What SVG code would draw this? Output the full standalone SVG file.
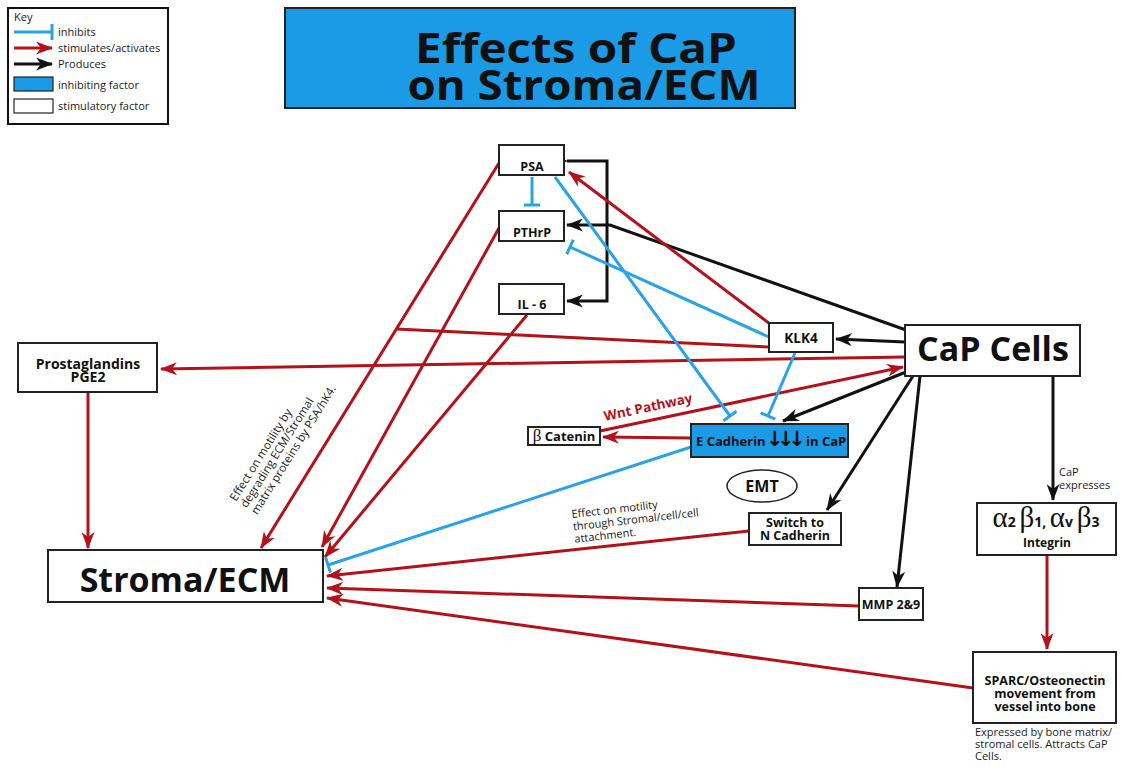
<svg xmlns="http://www.w3.org/2000/svg" width="1123" height="767" viewBox="0 0 1123 767">
<style>
.bx{fill:#fff;stroke:#222;stroke-width:2}
.bl{fill:#1b9be6;stroke:#222;stroke-width:2}
.t{font-family:"Open Sans","Liberation Sans",sans-serif;font-weight:700;fill:#111;text-anchor:middle}
.n{font-family:"Open Sans","Liberation Sans",sans-serif;font-weight:400;fill:#1a1a1a}
.r{fill:none;stroke:#b3121a;stroke-width:3}
.k{fill:none;stroke:#111;stroke-width:3}
.b{fill:none;stroke:#29a3e6;stroke-width:3}
.gr{font-family:"Liberation Serif","DejaVu Serif",serif;font-weight:400}
</style>
<defs>
<marker id="ar" markerUnits="userSpaceOnUse" markerWidth="17" markerHeight="13" viewBox="0 0 17 13" refX="16" refY="6.5" orient="auto"><path d="M0,0 L17,6.5 L0,13 L5,6.5 z" fill="#b3121a"/></marker>
<marker id="ab" markerUnits="userSpaceOnUse" markerWidth="17" markerHeight="13" viewBox="0 0 17 13" refX="16" refY="6.5" orient="auto"><path d="M0,0 L17,6.5 L0,13 L5,6.5 z" fill="#111"/></marker>
<marker id="tb" markerUnits="userSpaceOnUse" markerWidth="4" markerHeight="16" viewBox="0 0 4 16" refX="2" refY="8" orient="auto"><rect x="0.5" y="0" width="3" height="16" fill="#29a3e6"/></marker>
</defs>
<rect width="1123" height="767" fill="#fff"/>

<g id="key">
<rect x="8" y="8" width="160" height="116" fill="#fff" stroke="#111" stroke-width="2"/>
<text x="14" y="21" class="n" font-size="11" font-weight="700">Key</text>
<line x1="14" y1="32" x2="52" y2="32" class="b" stroke-width="2.5" marker-end="url(#tb)"/>
<line x1="14" y1="48" x2="52" y2="48" class="r" stroke-width="2.5" marker-end="url(#ar)"/>
<line x1="14" y1="64" x2="52" y2="64" class="k" stroke-width="2.5" marker-end="url(#ab)"/>
<rect x="14" y="77" width="39" height="14" fill="#1b9be6" stroke="#222" stroke-width="1.2"/>
<rect x="14" y="99" width="39" height="14" fill="#fff" stroke="#222" stroke-width="1.2"/>
<text x="58" y="36" class="n" font-size="11">inhibits</text>
<text x="58" y="52" class="n" font-size="11">stimulates/activates</text>
<text x="58" y="68" class="n" font-size="11">Produces</text>
<text x="58" y="89" class="n" font-size="11">inhibiting factor</text>
<text x="58" y="110" class="n" font-size="11">stimulatory factor</text>
</g>

<g id="title">
<rect x="285" y="8" width="510" height="100" fill="#1b9be6" stroke="#222" stroke-width="2"/>
<text x="576" y="63" class="t" font-size="41" textLength="322" lengthAdjust="spacingAndGlyphs">Effects of CaP</text>
<text x="584" y="100" class="t" font-size="41" textLength="353" lengthAdjust="spacingAndGlyphs">on Stroma/ECM</text>
</g>

<g id="connectors">
<!-- black produces -->
<polyline points="906,330 610,225 567,225" class="k" marker-end="url(#ab)"/>
<polyline points="567,161 607,161 607,301 567,301" class="k" marker-start="url(#ab)" marker-end="url(#ab)"/>
<line x1="905" y1="342" x2="836" y2="339" class="k" marker-end="url(#ab)"/>
<line x1="906" y1="372" x2="783" y2="421" class="k" marker-end="url(#ab)"/>
<line x1="913" y1="376" x2="827" y2="510" class="k" marker-end="url(#ab)"/>
<line x1="920" y1="376" x2="897" y2="587" class="k" marker-end="url(#ab)"/>
<line x1="1053" y1="377" x2="1053" y2="500" class="k" marker-end="url(#ab)"/>
<!-- red stimulates -->
<line x1="770" y1="324" x2="569" y2="172" class="r" marker-end="url(#ar)"/>
<line x1="499" y1="163" x2="261" y2="548" class="r" marker-end="url(#ar)"/>
<line x1="769" y1="347" x2="396" y2="329" class="r"/>
<line x1="499" y1="228" x2="322" y2="547" class="r" marker-end="url(#ar)"/>
<line x1="527" y1="315" x2="325" y2="557" class="r" marker-end="url(#ar)"/>
<line x1="905" y1="357" x2="161" y2="369" class="r" marker-end="url(#ar)"/>
<line x1="88" y1="392" x2="88" y2="548" class="r" marker-end="url(#ar)"/>
<line x1="600" y1="431" x2="903" y2="367" class="r" marker-end="url(#ar)"/>
<line x1="691" y1="438" x2="603" y2="437" class="r" marker-end="url(#ar)"/>
<line x1="749" y1="531" x2="327" y2="576" class="r" marker-end="url(#ar)"/>
<line x1="859" y1="606" x2="327" y2="588" class="r" marker-end="url(#ar)"/>
<line x1="973" y1="688" x2="327" y2="598" class="r" marker-end="url(#ar)"/>
<line x1="1047" y1="556" x2="1047" y2="649" class="r" marker-end="url(#ar)"/>
<!-- blue inhibits -->
<line x1="532" y1="177" x2="532" y2="205" class="b" marker-end="url(#tb)"/>
<line x1="769" y1="337" x2="570" y2="247" class="b" marker-end="url(#tb)"/>
<line x1="555" y1="177" x2="730" y2="416" class="b" marker-end="url(#tb)"/>
<line x1="795" y1="353" x2="768" y2="416" class="b" marker-end="url(#tb)"/>
<line x1="691" y1="447" x2="328" y2="565" class="b" marker-end="url(#tb)"/>
</g>

<g id="labels">
<g transform="translate(236,502) rotate(-58)">
<text x="0" y="0" class="n" font-size="11.5">Effect on motility by</text>
<text x="0" y="12.5" class="n" font-size="11.5">degrading ECM/Stromal</text>
<text x="0" y="25" class="n" font-size="11.5">matrix proteins by PSA/hK4.</text>
</g>
<text transform="translate(605,421) rotate(-12)" font-family="Open Sans,Liberation Sans,sans-serif" font-size="13.5" font-weight="700" fill="#b3121a">Wnt Pathway</text>
<g transform="translate(572,518) rotate(-6.5)">
<text x="0" y="0" class="n" font-size="11">Effect on motility</text>
<text x="0" y="12.5" class="n" font-size="11">through Stromal/cell/cell</text>
<text x="0" y="25" class="n" font-size="11">attachment.</text>
</g>
<text x="1059" y="476" class="n" font-size="11" font-weight="600">CaP</text>
<text x="1059" y="489" class="n" font-size="11" font-weight="600">expresses</text>
<text x="975" y="736" class="n" font-size="11">Expressed by bone matrix/</text>
<text x="975" y="748" class="n" font-size="11">stromal cells. Attracts CaP</text>
<text x="975" y="760" class="n" font-size="11">Cells.</text>
</g>

<g id="psa"><rect x="499" y="145" width="65" height="30" class="bx"/><text x="532" y="171" class="t" font-size="12.5">PSA</text></g>
<g id="pthrp"><rect x="499" y="211" width="65" height="30" class="bx"/><text x="532" y="237" class="t" font-size="12.5">PTHrP</text></g>
<g id="il6"><rect x="499" y="284" width="65" height="30" class="bx"/><text x="532" y="309" class="t" font-size="12.5">IL - 6</text></g>
<g id="klk4"><rect x="769" y="323" width="64" height="29" class="bx"/><text x="801" y="343" class="t" font-size="13.5">KLK4</text></g>
<g id="cap"><rect x="905" y="325" width="175" height="51" class="bx"/><text x="993" y="361" class="t" font-size="34">CaP Cells</text></g>
<g id="pge2"><rect x="18" y="343" width="139" height="49" class="bx"/><text x="88" y="369" class="t" font-size="14">Prostaglandins</text><text x="88" y="382" class="t" font-size="14">PGE2</text></g>
<g id="stroma"><rect x="48" y="550" width="275" height="52" class="bx"/><text x="185" y="592" class="t" font-size="34">Stroma/ECM</text></g>
<g id="bcatenin"><rect x="528" y="427" width="72" height="18" class="bx" stroke-width="1.5"/><text x="564" y="441" class="t" font-size="13"><tspan class="gr" font-size="17">β</tspan> Catenin</text></g>
<g id="ecadherin"><rect x="691" y="424" width="157" height="33" class="bl"/><text x="696" y="446" class="t" font-size="13" style="text-anchor:start">E Cadherin<tspan x="766" font-family="DejaVu Sans,sans-serif" font-size="21" letter-spacing="-6.5">↓↓↓</tspan><tspan x="806">in CaP</tspan></text></g>
<g id="emt"><ellipse cx="762" cy="486" rx="35" ry="16" fill="#fff" stroke="#222" stroke-width="1.5"/><text x="762" y="492" class="t" font-size="16">EMT</text></g>
<g id="ncadherin"><rect x="749" y="513" width="92" height="32" class="bx"/><text x="795" y="527" class="t" font-size="12.5">Switch to</text><text x="795" y="540" class="t" font-size="12.5">N Cadherin</text></g>
<g id="mmp"><rect x="859" y="588" width="64" height="32" class="bx" stroke-width="1.5"/><text x="891" y="609" class="t" font-size="12.5">MMP 2&amp;9</text></g>
<g id="integrin"><rect x="977" y="503" width="139" height="52" class="bx" stroke-width="1.5"/><text x="1046" y="527" class="t" font-size="14" font-weight="600"><tspan class="gr" font-size="29">α</tspan>2 <tspan class="gr" font-size="29">β</tspan>1, <tspan class="gr" font-size="29">α</tspan>v <tspan class="gr" font-size="29">β</tspan>3</text><text x="1047" y="547" class="t" font-size="12" font-weight="600">Integrin</text></g>
<g id="sparc"><rect x="973" y="652" width="143" height="71" class="bx"/><text x="1045" y="685" class="t" font-size="12.5">SPARC/Osteonectin</text><text x="1045" y="698" class="t" font-size="12.5">movement from</text><text x="1045" y="711" class="t" font-size="12.5">vessel into bone</text></g>
</svg>
